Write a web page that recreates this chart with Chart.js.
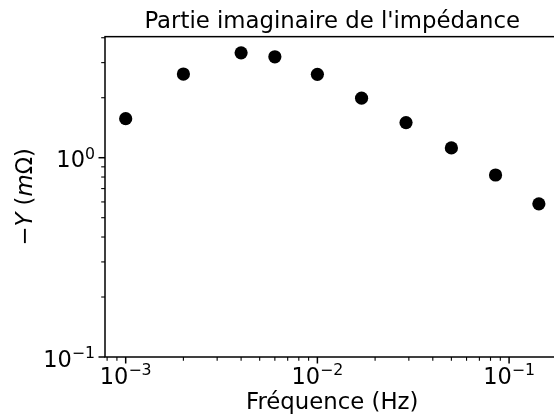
<!DOCTYPE html>
<html>
<head>
<meta charset="utf-8">
<script src="https://cdn.jsdelivr.net/npm/chart.js@4"></script>
<style>
  html, body { margin: 0; padding: 0; background: #fff; overflow: hidden; }
  #wrap { width: 554px; height: 417px; overflow: hidden; }
</style>
</head>
<body>
<div id="wrap"><canvas id="impedance" width="566" height="417"></canvas></div>
<script>
// frequences (Hz) et -Im(Z) (mOhm)
const freq = [0.001, 0.002, 0.004, 0.006, 0.01, 0.017, 0.029, 0.05, 0.085, 0.143];
const negImag = [1.57, 2.63, 3.36, 3.21, 2.62, 1.99, 1.50, 1.12, 0.819, 0.587];

const xMajor = [1e-3, 1e-2, 1e-1];
const xMajorLabels = ['10^−3', '10^−2', '10^−1'];
const yMajor = [0.1, 1];
const yMajorLabels = ['10^−1', '10^0'];

const xMin = 7.8e-4, xMax = 0.183;
const yMin = 0.1, yMax = 4.05;

const FONT = "'DejaVu Sans', sans-serif";
Chart.defaults.font.family = FONT;
Chart.defaults.color = '#000';

// ticks 1..9 x 10^n dans l'intervalle
function logTicks(min, max) {
  const out = [];
  for (let e = -5; e <= 2; e++) {
    for (let m = 1; m < 10; m++) {
      const v = +(m * Math.pow(10, e)).toPrecision(3);
      if (v >= min * 0.9999 && v <= max) out.push({ value: v });
    }
  }
  return out;
}

function majorIndex(list, v) {
  return list.findIndex(m => Math.abs(m - v) / m < 1e-6);
}

// "10^-3" : base + exposant en petit, facon mathtext
function drawPower(ctx, label, x, baseline, align) {
  const [base, exp] = label.split('^');
  ctx.font = '22.5px ' + FONT;
  const wb = ctx.measureText(base).width;
  ctx.font = '15.75px ' + FONT;
  const we = ctx.measureText(exp).width;
  const total = wb + we;
  let x0 = align === 'right' ? x - total : x - total / 2;
  ctx.textAlign = 'left';
  ctx.textBaseline = 'alphabetic';
  ctx.font = '22.5px ' + FONT;
  ctx.fillText(base, x0, baseline);
  ctx.font = '15.75px ' + FONT;
  ctx.fillText(exp, x0 + wb, baseline - 8.4);
}

const axesFrame = {
  id: 'axesFrame',
  afterDatasetsDraw(chart) {
    const { ctx, chartArea: a, scales: { x, y } } = chart;
    ctx.save();
    ctx.strokeStyle = '#000';
    ctx.fillStyle = '#000';
    x.ticks.forEach(t => {
      const px = x.getPixelForValue(t.value);
      const i = majorIndex(xMajor, t.value);
      ctx.lineWidth = i >= 0 ? 1.5 : 1.1;
      ctx.beginPath();
      ctx.moveTo(px, a.bottom);
      ctx.lineTo(px, a.bottom + (i >= 0 ? 6.5 : 3.8));
      ctx.stroke();
      if (i >= 0) drawPower(ctx, xMajorLabels[i], px, a.bottom + 26.7, 'center');
    });
    y.ticks.forEach(t => {
      const py = y.getPixelForValue(t.value);
      const i = majorIndex(yMajor, t.value);
      ctx.lineWidth = i >= 0 ? 1.5 : 1.1;
      ctx.beginPath();
      ctx.moveTo(a.left, py);
      ctx.lineTo(a.left - (i >= 0 ? 6.5 : 3.8), py);
      ctx.stroke();
      if (i >= 0) drawPower(ctx, yMajorLabels[i], a.left - 10, py + 9.5, 'right');
    });
    ctx.lineWidth = 1.5;
    ctx.strokeRect(a.left, a.top, a.right - a.left, a.bottom - a.top);

    // titre de l'axe y : -Y (m Ohm) avec Y et m en italique
    const parts = [['−', ''], ['Y', 'italic '], [' (', ''], ['m', 'italic '], ['Ω)', '']];
    const size = 22.8;
    let total = 0;
    parts.forEach(p => { ctx.font = p[1] + size + 'px ' + FONT; total += ctx.measureText(p[0]).width; });
    ctx.translate(24 + 8.3, (a.top + a.bottom) / 2);
    ctx.rotate(-Math.PI / 2);
    ctx.textAlign = 'left';
    ctx.textBaseline = 'alphabetic';
    let cx = -total / 2;
    parts.forEach(p => {
      ctx.font = p[1] + size + 'px ' + FONT;
      ctx.fillText(p[0], cx, 0);
      cx += ctx.measureText(p[0]).width;
    });
    ctx.restore();
  }
};

new Chart(document.getElementById('impedance'), {
  type: 'scatter',
  data: {
    datasets: [{
      label: '-Y',
      data: freq.map((f, i) => ({ x: f, y: negImag[i] })),
      backgroundColor: '#000',
      borderWidth: 0,
      pointRadius: 6.6,
      pointHoverRadius: 6.6
    }]
  },
  options: {
    responsive: false,
    animation: false,
    layout: { padding: { left: 0, right: 1, top: 0, bottom: 0 } },
    plugins: {
      legend: { display: false },
      tooltip: { enabled: false },
      title: {
        display: true,
        text: "Partie imaginaire de l'impédance",
        fullSize: false,
        color: '#000',
        font: { size: 22.8, weight: 'normal' },
        padding: { top: 8.5, bottom: 0.8 }
      }
    },
    scales: {
      x: {
        type: 'logarithmic',
        position: 'bottom',
        min: xMin,
        max: xMax,
        grid: { display: false },
        border: { display: false },
        afterFit(scale) { scale.height = 60; },
        afterBuildTicks(scale) { scale.ticks = logTicks(xMin, xMax); },
        ticks: { display: false, autoSkip: false },
        title: {
          display: true,
          text: 'Fréquence (Hz)',
          color: '#000',
          font: { size: 22.8 },
          padding: { top: 0, bottom: 0 }
        }
      },
      y: {
        type: 'logarithmic',
        min: yMin,
        max: yMax,
        grid: { display: false },
        border: { display: false },
        afterFit(scale) { scale.width = 105; },
        afterBuildTicks(scale) { scale.ticks = logTicks(yMin, yMax); },
        ticks: { display: false, autoSkip: false },
        title: { display: false }
      }
    }
  },
  plugins: [axesFrame]
});
</script>
</body>
</html>
